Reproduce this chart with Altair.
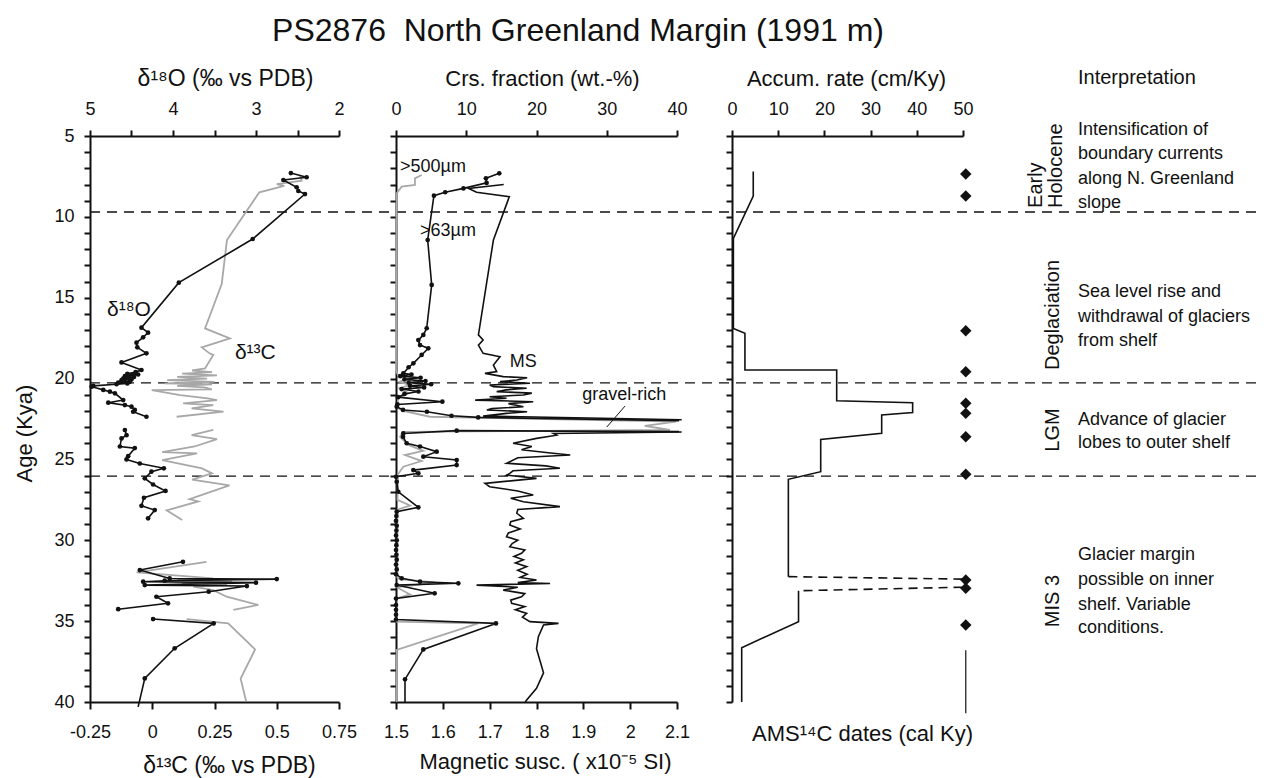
import altair as alt
import pandas as pd

FONT = "Liberation Sans"
BLACK = "#111111"
GRAY = "#a8a8a8"
W, H = 1172, 566
L_RANGE = [0, 249]
M_RANGE = [306, 587]
R_RANGE = [642, 873]
AGE_DOMAIN = [5, 40]

# ---------------- data ----------------
boundary_ages = [9.7, 20.27, 26.03]

d18o_age = [7.29, 7.55, 7.72, 8.17, 8.40, 8.59, 11.37, 14.07, 16.85, 17.16, 17.45, 17.78, 18.07, 18.44,
            19.0, 19.47, 19.6, 19.7, 19.75, 19.85, 19.9, 20.0, 20.05, 20.1, 20.2, 20.25, 20.3, 20.35,
            20.45, 20.5, 20.7, 20.81, 20.91, 21.33, 21.49, 21.64, 21.74, 21.94, 22.05, 22.36,
            23.18, 23.5, 23.7, 24.2, 24.3, 24.8, 25.0, 25.25, 25.55, 25.76, 26.17, 26.55, 26.95, 27.37,
            27.87, 28.13, 28.64,
            31.33, 31.84, 32.36, 32.40, 32.50, 32.56, 32.62, 32.77, 32.83, 33.18, 33.49, 33.9, 34.26,
            34.87, 35.14, 36.68, 38.54, 40.3]
d18o_val = [2.58, 2.39, 2.67, 2.51, 2.49, 2.41, 3.04, 3.93, 4.38, 4.30, 4.36, 4.44, 4.43, 4.32,
            4.62, 4.38, 4.45, 4.55, 4.42, 4.58, 4.47, 4.60, 4.50, 4.62, 4.52, 4.66, 4.55, 4.68,
            4.96, 4.98, 4.84, 4.76, 4.70, 4.60, 4.78, 4.58, 4.50, 4.46, 4.48, 4.32,
            4.58, 4.56, 4.62, 4.64, 4.46, 4.54, 4.56, 4.40, 4.11, 4.26, 4.34, 4.24, 4.09, 4.35,
            4.38, 4.22, 4.30,
            3.88, 4.40, 4.04, 2.75, 4.10, 4.36, 3.00, 4.34, 3.11, 3.57, 4.20, 4.06, 4.66,
            4.24, 3.51, 3.98, 4.34, 4.42]
d18o_seg = [1] * 40 + [2] * 17 + [3] * 13 + [4] * 5
d18o_dot = [1] * 74 + [0]

d13c_age = [7.41, 7.76, 7.97, 8.09, 8.48, 11.43, 14.15, 16.9, 17.51, 18.07, 18.44, 18.54, 19.37,
            19.5, 19.6, 19.7, 19.8, 19.9, 20.0, 20.1, 20.2, 20.3, 20.35, 20.45, 20.55, 20.67, 20.71,
            21.02, 21.22, 21.33, 21.53, 21.64, 21.84, 22.05, 22.36,
            23.18, 23.5, 23.74, 24.2, 24.55, 24.62, 25.04, 25.55, 25.86, 26.25, 26.6, 27.45, 27.6,
            28.15, 28.75,
            31.33, 31.98, 32.36, 32.45, 32.55, 32.65, 32.75, 32.87, 33.08, 33.49, 34.0, 34.3,
            34.87, 35.14, 36.75, 38.56, 39.95]
d13c_val = [0.593, 0.60, 0.50, 0.53, 0.43, 0.30, 0.279, 0.212, 0.312, 0.199, 0.23, 0.245, 0.212,
            0.16, 0.24, 0.12, 0.26, 0.10, 0.22, 0.06, 0.25, 0.05, 0.24, 0.10, 0.21, 0.239, -0.002,
            0.112, 0.223, 0.26, 0.124, 0.245, 0.158, 0.286, 0.098,
            0.245, 0.158, 0.26, 0.17, 0.04, 0.18, 0.04, 0.20, 0.24, 0.16, 0.31, 0.15, 0.185,
            0.058, 0.12,
            0.218, -0.063, 0.245, 0.10, 0.32, 0.12, 0.30, 0.165, 0.245, 0.299, 0.426, 0.326,
            0.138, 0.305, 0.413, 0.355, 0.377]
d13c_seg = [1] * 35 + [2] * 15 + [3] * 12 + [4] * 5

c63_age = [7.31, 7.62, 7.9, 8.24, 8.48, 8.69, 11.43, 14.21, 16.89, 17.3, 17.62, 17.93, 18.13, 18.54,
           19.06, 19.3, 19.68, 19.75, 19.85, 19.95, 20.05, 20.15, 20.25, 20.35, 20.45, 20.55, 20.65,
           20.8, 20.95, 21.15, 21.43, 21.6, 21.74, 21.94, 22.05, 22.3, 22.4, 22.6,
           23.28, 23.22, 23.39, 23.6, 24.0, 24.2, 24.52, 24.83, 25.04, 25.35, 25.66, 25.86, 26.07,
           26.38, 27.0, 27.96, 28.23, 28.5, 28.8, 29.1, 29.4, 29.7, 30.0, 30.3, 30.6, 30.9, 31.2,
           31.5, 31.8, 32.1, 32.35, 32.56, 32.66, 32.77, 33.28, 33.6, 34.0, 34.3, 34.6, 34.9, 35.14,
           36.75, 38.6, 40.0]
c63_val = [14.7, 12.8, 12.9, 9.6, 7.0, 5.4, 4.51, 5.08, 4.37, 3.89, 3.18, 3.42, 4.6, 3.65,
           2.47, 1.8, 1.04, 2.2, 0.6, 3.5, 1.2, 4.2, 1.8, 5.0, 2.0, 4.0, 0.8,
           3.2, 1.2, 0.3, 6.6, 0.2, 0.1, 1.0, 4.4, 7.9, 11.7, 40.3,
           40.3, 8.64, 1.04, 1.0, 1.52, 3.42, 5.79, 3.89, 8.64, 8.64, 2.47, 3.18, 0.0,
           0.1, 0.33, 3.18, 0.1, 0.05, 0.0, 0.1, 0.05, 0.0, 0.1, 0.05, 0.0, 0.05, 0.1,
           0.0, 0.1, 0.0, 0.81, 3.42, 8.87, 0.1, 5.5, 0.0, 0.0, 0.0, 0.0, 0.0, 14.23,
           3.89, 1.28, 1.28]
c63_seg = [1] * 38 + [2] * 44
c63_dot = [1] * 37 + [0] + [0] + [1] * 42 + [0]

c500_age = [7.41, 7.62, 8.03, 8.13, 8.54, 12.0, 19.5, 19.8, 20.0, 20.2, 20.4, 20.6, 20.9, 21.2,
            21.8, 22.0, 22.36, 22.66, 22.93, 23.18, 23.3, 23.6, 24.1, 24.47, 24.73, 25.1, 25.45,
            25.9, 27.5, 27.85, 28.1, 32.3, 32.4, 32.6, 32.75, 32.9, 33.35, 33.6, 35.03, 35.14,
            36.78, 40.0]
c500_val = [3.65, 2.7, 2.7, 0.81, 0.1, 0.05, 0.0, 0.3, 1.5, 0.5, 2.0, 0.5, 1.8, 0.3,
            0.2, 1.0, 4.84, 39.9, 35.4, 39.0, 1.0, 0.57, 1.75, 3.89, 1.28, 3.65, 1.04,
            0.3, 0.2, 2.0, 0.2, 0.2, 0.5, 5.5, 3.0, 0.1, 2.0, 0.1, 0.1, 11.7,
            0.1, 0.1]

ms_age = [8.0, 8.24, 8.48, 8.75, 11.43, 17.3, 17.62, 17.93, 18.44, 18.65, 19.16, 19.57, 19.68,
          19.88, 19.95, 20.09, 20.19, 20.29, 20.4, 20.5, 20.6, 20.7, 20.81, 20.9, 21.02, 21.12,
          21.22, 21.33, 21.43, 21.55, 21.74, 21.85, 21.94, 22.05, 22.15, 22.32, 22.55,
          23.3, 23.39, 23.5, 23.7, 24.0, 24.2, 24.4, 24.6, 24.73, 24.9, 25.24, 25.4, 25.55, 25.7,
          25.86, 25.97, 26.17, 26.48, 26.69, 26.95, 27.2, 27.4, 27.62, 27.92, 28.1, 28.33, 28.64,
          28.85, 29.06, 29.3, 29.55, 29.78, 30.0, 30.2, 30.4, 30.6, 30.8, 31.0, 31.2, 31.4, 31.63,
          31.85, 32.1, 32.3, 32.46, 32.62, 32.67, 32.77, 32.9, 33.08, 33.3, 33.5, 33.7, 33.9, 34.1,
          34.3, 34.52, 34.75, 35.03, 35.14, 35.24, 35.96, 36.7, 37.4, 38.2, 39.15, 39.88, 40.0]
ms_val = [1.73, 1.655, 1.672, 1.742, 1.708, 1.676, 1.686, 1.676, 1.686, 1.722, 1.708, 1.715, 1.69,
          1.729, 1.78, 1.758, 1.722, 1.786, 1.70, 1.708, 1.779, 1.735, 1.715, 1.79, 1.772, 1.70,
          1.736, 1.669, 1.793, 1.74, 1.772, 1.705, 1.694, 1.78, 1.736, 1.686, 2.11,
          2.11, 1.836, 1.843, 1.80, 1.75, 1.79, 1.768, 1.83, 1.872, 1.76, 1.736, 1.82, 1.85, 1.75,
          1.743, 1.736, 1.80, 1.69, 1.70, 1.76, 1.793, 1.745, 1.772, 1.85, 1.76, 1.758, 1.772,
          1.745, 1.743, 1.765, 1.74, 1.736, 1.76, 1.748, 1.743, 1.775, 1.768, 1.752, 1.772, 1.755,
          1.779, 1.76, 1.78, 1.765, 1.80, 1.76, 1.829, 1.672, 1.76, 1.729, 1.775, 1.768, 1.745, 1.747,
          1.775, 1.755, 1.779, 1.77, 1.786, 1.847, 1.815, 1.804, 1.80, 1.807, 1.815, 1.80, 1.779, 1.776]
ms_seg = [1] * 37 + [2] * 68

acc_age = [7.2, 8.71, 11.33, 16.9, 17.2, 19.47, 19.47, 21.37, 21.49, 22.1, 22.25, 23.39, 23.76,
           25.76, 26.23, 32.25, 33.12, 35.03, 36.64, 40.0]
acc_val = [4.6, 4.6, 0.3, 0.3, 2.8, 2.8, 22.66, 22.66, 39.1, 39.1, 32.4, 32.4, 19.2,
           19.2, 12.2, 12.2, 14.4, 14.4, 2.1, 2.1]
acc_seg = [1] * 16 + [2] * 4

acc_dash_age = [32.25, 32.4, 32.9, 33.12]
acc_dash_val = [12.2, 49.9, 49.9, 14.4]
acc_dash_seg = [1, 1, 2, 2]

date_ages = [7.35, 8.71, 17.04, 19.58, 21.53, 22.15, 23.6, 25.92, 32.46, 32.97, 35.24]
date_x = 50.6

interp_lines = ["Intensification of", "boundary currents", "along N. Greenland", "slope",
                "Sea level rise and", "withdrawal of glaciers", "from shelf",
                "Advance of glacier", "lobes to outer shelf",
                "Glacier margin", "possible on inner", "shelf. Variable", "conditions."]
interp_ages = [4.63, 6.11, 7.66, 9.14, 14.65, 16.19, 17.68, 22.56, 23.99, 30.91, 32.46, 34.0, 35.43]

stage_names = ["Deglaciation", "LGM", "MIS 3"]
stage_ages = [16.07, 23.18, 33.76]


# ---------------- helpers ----------------
def frame(age, val, seg=None, dot=None):
    d = {"age": age, "v": val, "i": list(range(len(age)))}
    if seg is not None:
        d["seg"] = seg
    if dot is not None:
        d["dot"] = dot
    return pd.DataFrame(d)


def Y(axis=None):
    return alt.Y("age:Q", scale=alt.Scale(domain=AGE_DOMAIN, range=[0, H], nice=False, zero=False),
                 axis=axis)


def X(field, domain, rng, axis=None):
    return alt.X(f"{field}:Q", scale=alt.Scale(domain=domain, range=rng, nice=False, zero=False),
                 axis=axis)


age_ticks = list(range(5, 41))
AX = dict(domainColor=BLACK, tickColor=BLACK, labelColor=BLACK, titleColor=BLACK,
          domainWidth=2, tickWidth=2, grid=False, labelFont=FONT, titleFont=FONT,
          labelFontSize=18, titleFontSize=22, titleFontWeight="normal",
          titleAlign="center", titleBaseline="middle", labelFlush=False, labelOverlap=False)

y_left_axis = alt.Axis(orient="left", values=age_ticks, tickSize=6, labelPadding=10,
                       labelExpr="datum.value % 5 === 0 ? datum.label : ''",
                       title="Age (Kya)", titleAngle=270, titleX=-66, titleY=297, **AX)
y_mid_axis = alt.Axis(orient="left", values=age_ticks, tickSize=6, labels=False, offset=-306,
                      title=None, **AX)
y_right_axis = alt.Axis(orient="left", values=age_ticks, tickSize=6, labels=False, offset=-642,
                        title=None, **AX)

AXD = dict(AX, titleFontSize=23)
d18o_axis = alt.Axis(orient="top", values=[5, 4.5, 4, 3.5, 3, 2.5, 2], tickSize=6, labelPadding=12,
                     labelExpr="datum.value % 1 === 0 ? format(datum.value, 'd') : ''",
                     title="δ¹⁸O (‰ vs PDB)", titleX=135, titleY=-58, **AXD)
d13c_axis = alt.Axis(orient="bottom", values=[-0.25, 0, 0.25, 0.5, 0.75], tickSize=7, labelPadding=14,
                     labelExpr="replace(format(datum.value, '.2~f'), '−', '-')",
                     title="δ¹³C (‰ vs PDB)", titleX=139, titleY=63, **AXD)
crs_axis = alt.Axis(orient="top", values=[0, 10, 20, 30, 40], tickSize=6, labelPadding=12,
                    format="d", title="Crs. fraction (wt.-%)", titleX=452, titleY=-58, **AX)
ms_axis = alt.Axis(orient="bottom", values=[1.5, 1.6, 1.7, 1.8, 1.9, 2.0, 2.1], tickSize=7,
                   labelPadding=14, format=".1~f", title="Magnetic susc. ( x10⁻⁵ SI)",
                   titleX=455, titleY=59, **AX)
acc_axis = alt.Axis(orient="top", values=[0, 10, 20, 30, 40, 50], tickSize=6, labelPadding=12,
                    format="d", title="Accum. rate (cm/Ky)", titleX=756, titleY=-58, **AX)
dates_axis = alt.Axis(orient="bottom", domain=False, ticks=False, labels=False,
                      title="AMS¹⁴C dates (cal Ky)", titleX=772, titleY=31, **AX)

D18 = [5, 2]
D13 = [-0.25, 0.75]
CRS = [0, 40]
MSD = [1.5, 2.1]
ACC = [0, 50]

# ---------------- layers ----------------
dashed = alt.Chart(pd.DataFrame({"age": boundary_ages})).mark_rule(
    color=BLACK, strokeWidth=1.3, strokeDash=[10, 7]).encode(
    y=Y(), x=alt.value(0), x2=alt.value(W))

d13c_line = alt.Chart(frame(d13c_age, d13c_val, d13c_seg)).mark_line(
    color=GRAY, strokeWidth=1.8).encode(
    x=X("v", D13, L_RANGE, d13c_axis), y=Y(), detail="seg:N", order="i:Q")

d18o_df = frame(d18o_age, d18o_val, d18o_seg, d18o_dot)
d18o_line = alt.Chart(d18o_df).mark_line(color=BLACK, strokeWidth=1.6).encode(
    x=X("v", D18, L_RANGE, d18o_axis), y=Y(y_left_axis), detail="seg:N", order="i:Q")
d18o_pts = alt.Chart(d18o_df).transform_filter("datum.dot == 1").mark_circle(
    color=BLACK, size=22, opacity=1).encode(x=X("v", D18, L_RANGE), y=Y())

c500_line = alt.Chart(frame(c500_age, c500_val)).mark_line(color=GRAY, strokeWidth=1.8).encode(
    x=X("v", CRS, M_RANGE), y=Y(), order="i:Q")

c63_df = frame(c63_age, c63_val, c63_seg, c63_dot)
c63_line = alt.Chart(c63_df).mark_line(color=BLACK, strokeWidth=1.6).encode(
    x=X("v", CRS, M_RANGE, crs_axis), y=Y(y_mid_axis), detail="seg:N", order="i:Q")
c63_pts = alt.Chart(c63_df).transform_filter("datum.dot == 1").mark_circle(
    color=BLACK, size=22, opacity=1).encode(x=X("v", CRS, M_RANGE), y=Y())

ms_line = alt.Chart(frame(ms_age, ms_val, ms_seg)).mark_line(color=BLACK, strokeWidth=1.6).encode(
    x=X("v", MSD, M_RANGE, ms_axis), y=Y(), detail="seg:N", order="i:Q")

acc_line = alt.Chart(frame(acc_age, acc_val, acc_seg)).mark_line(color=BLACK, strokeWidth=1.6).encode(
    x=X("v", ACC, R_RANGE, acc_axis), y=Y(y_right_axis), detail="seg:N", order="i:Q")
acc_dash = alt.Chart(frame(acc_dash_age, acc_dash_val, acc_dash_seg)).mark_line(
    color=BLACK, strokeWidth=1.6, strokeDash=[9, 6]).encode(
    x=X("v", ACC, R_RANGE), y=Y(), detail="seg:N", order="i:Q")

dates = alt.Chart(pd.DataFrame({"age": date_ages, "v": [date_x] * len(date_ages)})).mark_point(
    shape="diamond", filled=True, color=BLACK, size=130, opacity=1).encode(
    x=X("v", ACC, R_RANGE, dates_axis), y=Y())
dates_rule = alt.Chart(pd.DataFrame({"age": [36.8], "age2": [40.7], "v": [date_x]})).mark_rule(
    color=BLACK, strokeWidth=1.2).encode(x=X("v", ACC, R_RANGE), y=Y(), y2="age2:Q")

left_labels = alt.Chart(pd.DataFrame({"age": [15.76], "v": [4.795], "t": ["δ¹⁸O"]})).mark_text(
    font=FONT, fontSize=21, align="left", baseline="middle", color=BLACK).encode(
    x=X("v", D18, L_RANGE), y=Y(), text="t:N")
left_labels2 = alt.Chart(pd.DataFrame({"age": [18.4], "v": [0.332], "t": ["δ¹³C"]})).mark_text(
    font=FONT, fontSize=21, align="left", baseline="middle", color=BLACK).encode(
    x=X("v", D13, L_RANGE), y=Y(), text="t:N")
mid_labels = alt.Chart(pd.DataFrame({"age": [6.9, 10.9, 19.0, 21.0],
                                     "v": [0.57, 3.42, 16.2, 26.5],
                                     "t": [">500µm", ">63µm", "MS", "gravel-rich"]})).mark_text(
    font=FONT, fontSize=18, align="left", baseline="middle", color=BLACK).encode(
    x=X("v", CRS, M_RANGE), y=Y(), text="t:N")
pointer = alt.Chart(pd.DataFrame({"age": [21.7], "age2": [23.0], "v": [32.6], "v2": [30.0]})).mark_rule(
    color=BLACK, strokeWidth=1).encode(x=X("v", CRS, M_RANGE), x2="v2:Q", y=Y(), y2="age2:Q")

TX = 988
interp = alt.Chart(pd.DataFrame({"age": interp_ages, "t": interp_lines})).mark_text(
    font=FONT, fontSize=18, align="left", baseline="middle", color=BLACK).encode(
    x=alt.value(TX), y=Y(), text="t:N")
header = alt.Chart(pd.DataFrame({"t": ["Interpretation"]})).mark_text(
    font=FONT, fontSize=20, align="left", baseline="middle", color=BLACK).encode(
    x=alt.value(TX), y=alt.value(-58), text="t:N")
stages = alt.Chart(pd.DataFrame({"age": stage_ages, "t": stage_names})).mark_text(
    font=FONT, fontSize=20, angle=270, align="center", baseline="middle", color=BLACK).encode(
    x=alt.value(TX - 25), y=Y(), text="t:N")
holo = alt.Chart(pd.DataFrame({"age": [9.45, 9.45], "t": ["Early", "Holocene"],
                               "px": [TX - 42, TX - 22]})).mark_text(
    font=FONT, fontSize=20, angle=270, align="left", baseline="middle", color=BLACK).encode(
    x=alt.X("px:Q", scale=None), y=Y(), text="t:N")

chart = alt.layer(
    dashed, d13c_line, d18o_line, d18o_pts, c500_line, c63_line, c63_pts, ms_line,
    acc_line, acc_dash, dates, dates_rule, left_labels, left_labels2, mid_labels, pointer,
    interp, header, stages, holo,
).resolve_scale(x="independent", y="independent").properties(
    width=W, height=H,
    title=alt.TitleParams("PS2876\u00a0\u00a0North Greenland Margin (1991 m)", font=FONT, fontSize=32,
                          fontWeight="normal", color=BLACK, anchor="middle", dx=-98, offset=19),
    autosize=alt.AutoSizeParams(type="none"),
    padding={"left": 82, "top": 128, "right": 5, "bottom": 76},
).configure_view(stroke=None)

chart.save("out.html", embed_options={"renderer": "svg", "actions": False})
